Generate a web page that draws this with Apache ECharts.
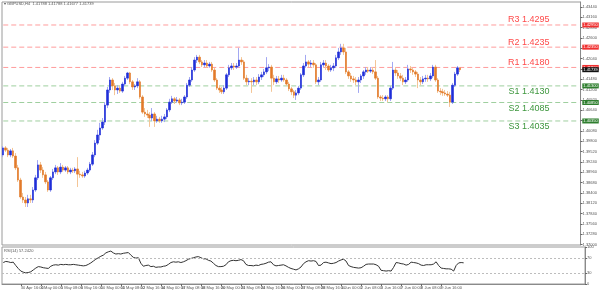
<!DOCTYPE html>
<html><head><meta charset="utf-8">
<script src="https://cdn.jsdelivr.net/npm/echarts@6/dist/echarts.min.js"></script>
<style>html,body{margin:0;padding:0;background:#fff}#c{width:600px;height:293px}</style>
</head><body><div id="c"></div>
<script>
const symbolTitle = 'GBPUSD,H4  1.41788 1.41788 1.41677 1.41739';
const rsiTitle = 'RSI(14) 57.2420';
const totalSlots = 233;
const tickBars = [0,7,15,23,31,39,47,55,63,71,79,87,95,103,111,119,127,135,143,151,159,167,175,183];
const tickLabels = ['29 Apr 2021','30 Apr 16:00','4 May 00:00','5 May 08:00','6 May 16:00','10 May 00:00','11 May 08:00','12 May 16:00','14 May 00:00','17 May 08:00','18 May 16:00','20 May 00:00','21 May 08:00','24 May 16:00','26 May 00:00','27 May 08:00','28 May 16:00','1 Jun 00:00','2 Jun 08:00','3 Jun 16:00','7 Jun 00:00','8 Jun 08:00','9 Jun 16:00','11 Jun 00:00'];
// [open, close, low, high]
const candles = [
[1.3943,1.3962,1.3937,1.3967],[1.3962,1.3956,1.3951,1.3967],[1.3956,1.3943,1.3937,1.3962],[1.3943,1.3954,1.3937,1.3959],[1.3954,1.3940,1.3935,1.3962],
[1.3940,1.3908,1.3902,1.3948],[1.3908,1.3875,1.3870,1.3916],[1.3875,1.3829,1.3824,1.3881],[1.3829,1.3821,1.3813,1.3840],[1.3821,1.3813,1.3802,1.3829],
[1.3813,1.3824,1.3802,1.3835],[1.3824,1.3821,1.3813,1.3835],[1.3821,1.3848,1.3813,1.3856],[1.3848,1.3881,1.3843,1.3889],[1.3881,1.3916,1.3875,1.3929],
[1.3916,1.3902,1.3894,1.3924],[1.3902,1.3889,1.3881,1.3910],[1.3889,1.3870,1.3864,1.3897],[1.3870,1.3848,1.3843,1.3875],[1.3848,1.3881,1.3843,1.3886],
[1.3881,1.3897,1.3875,1.3905],[1.3897,1.3908,1.3891,1.3916],[1.3908,1.3897,1.3889,1.3913],[1.3897,1.3910,1.3891,1.3921],[1.3910,1.3902,1.3897,1.3916],
[1.3902,1.3908,1.3897,1.3913],[1.3908,1.3897,1.3891,1.3913],[1.3897,1.3902,1.3891,1.3908],[1.3902,1.3900,1.3894,1.3908],[1.3900,1.3905,1.3894,1.3910],
[1.3905,1.3891,1.3856,1.3937],[1.3891,1.3889,1.3881,1.3900],[1.3889,1.3886,1.3881,1.3897],[1.3886,1.3894,1.3881,1.3900],[1.3894,1.3902,1.3889,1.3908],
[1.3902,1.3918,1.3897,1.3924],[1.3918,1.3943,1.3913,1.3951],[1.3943,1.3975,1.3937,1.3983],[1.3975,1.3997,1.3970,1.4011],[1.3997,1.4016,1.3983,1.4030],
[1.4016,1.4032,1.4011,1.4043],[1.4032,1.4078,1.4024,1.4086],[1.4078,1.4119,1.4070,1.4127],[1.4119,1.4146,1.4111,1.4154],[1.4146,1.4130,1.4119,1.4151],
[1.4130,1.4119,1.4105,1.4138],[1.4119,1.4124,1.4108,1.4132],[1.4124,1.4116,1.4111,1.4130],[1.4116,1.4135,1.4111,1.4141],[1.4135,1.4151,1.4130,1.4157],
[1.4151,1.4165,1.4146,1.4168],[1.4165,1.4141,1.4135,1.4168],[1.4141,1.4127,1.4119,1.4146],[1.4127,1.4130,1.4119,1.4135],[1.4130,1.4141,1.4124,1.4151],
[1.4141,1.4100,1.4095,1.4146],[1.4100,1.4059,1.4054,1.4105],[1.4059,1.4054,1.4046,1.4070],[1.4054,1.4051,1.4043,1.4065],[1.4051,1.4043,1.4019,1.4059],
[1.4043,1.4054,1.4035,1.4070],[1.4054,1.4035,1.4019,1.4059],[1.4035,1.4040,1.4030,1.4049],[1.4040,1.4035,1.4030,1.4046],[1.4035,1.4040,1.4030,1.4049],
[1.4040,1.4046,1.4032,1.4054],[1.4046,1.4065,1.4040,1.4070],[1.4065,1.4086,1.4059,1.4095],[1.4086,1.4095,1.4081,1.4103],[1.4095,1.4089,1.4081,1.4100],
[1.4089,1.4092,1.4084,1.4100],[1.4092,1.4084,1.4078,1.4097],[1.4084,1.4086,1.4078,1.4095],[1.4086,1.4100,1.4081,1.4105],[1.4100,1.4132,1.4095,1.4138],
[1.4132,1.4146,1.4127,1.4154],[1.4146,1.4173,1.4141,1.4181],[1.4173,1.4200,1.4168,1.4208],[1.4200,1.4208,1.4192,1.4214],[1.4208,1.4195,1.4189,1.4214],
[1.4195,1.4187,1.4181,1.4200],[1.4187,1.4192,1.4181,1.4200],[1.4192,1.4184,1.4179,1.4200],[1.4184,1.4189,1.4179,1.4195],[1.4189,1.4173,1.4168,1.4195],
[1.4173,1.4146,1.4141,1.4179],[1.4146,1.4124,1.4119,1.4151],[1.4124,1.4119,1.4111,1.4132],[1.4119,1.4114,1.4108,1.4127],[1.4114,1.4124,1.4108,1.4132],
[1.4124,1.4160,1.4119,1.4165],[1.4160,1.4179,1.4154,1.4187],[1.4179,1.4184,1.4173,1.4192],[1.4184,1.4181,1.4173,1.4192],[1.4181,1.4184,1.4176,1.4192],
[1.4184,1.4200,1.4179,1.4233],[1.4200,1.4195,1.4187,1.4208],[1.4195,1.4151,1.4146,1.4200],[1.4151,1.4141,1.4132,1.4160],[1.4141,1.4143,1.4132,1.4151],
[1.4143,1.4141,1.4111,1.4151],[1.4141,1.4146,1.4132,1.4154],[1.4146,1.4141,1.4132,1.4154],[1.4141,1.4154,1.4135,1.4162],[1.4154,1.4160,1.4146,1.4168],
[1.4160,1.4168,1.4154,1.4176],[1.4168,1.4179,1.4162,1.4208],[1.4179,1.4181,1.4170,1.4189],[1.4181,1.4151,1.4114,1.4187],[1.4151,1.4141,1.4132,1.4160],
[1.4141,1.4149,1.4135,1.4157],[1.4149,1.4146,1.4138,1.4157],[1.4146,1.4151,1.4141,1.4160],[1.4151,1.4146,1.4141,1.4160],[1.4146,1.4135,1.4130,1.4151],
[1.4135,1.4122,1.4116,1.4141],[1.4122,1.4114,1.4105,1.4127],[1.4114,1.4105,1.4097,1.4119],[1.4105,1.4111,1.4092,1.4119],[1.4111,1.4124,1.4105,1.4130],
[1.4124,1.4160,1.4119,1.4165],[1.4160,1.4184,1.4154,1.4192],[1.4184,1.4195,1.4179,1.4214],[1.4195,1.4189,1.4181,1.4200],[1.4189,1.4192,1.4181,1.4200],
[1.4192,1.4187,1.4179,1.4200],[1.4187,1.4141,1.4135,1.4192],[1.4141,1.4146,1.4132,1.4154],[1.4146,1.4187,1.4141,1.4195],[1.4187,1.4192,1.4181,1.4200],
[1.4192,1.4184,1.4173,1.4200],[1.4184,1.4173,1.4168,1.4189],[1.4173,1.4179,1.4168,1.4187],[1.4179,1.4184,1.4170,1.4192],[1.4184,1.4206,1.4179,1.4214],
[1.4206,1.4222,1.4200,1.4233],[1.4222,1.4233,1.4214,1.4244],[1.4233,1.4222,1.4214,1.4244],[1.4222,1.4168,1.4162,1.4233],[1.4168,1.4157,1.4149,1.4173],
[1.4157,1.4149,1.4141,1.4165],[1.4149,1.4146,1.4138,1.4157],[1.4146,1.4141,1.4132,1.4154],[1.4141,1.4146,1.4111,1.4154],[1.4146,1.4157,1.4138,1.4162],
[1.4157,1.4168,1.4149,1.4173],[1.4168,1.4173,1.4160,1.4181],[1.4173,1.4170,1.4165,1.4181],[1.4170,1.4173,1.4165,1.4181],[1.4173,1.4168,1.4162,1.4181],
[1.4168,1.4151,1.4146,1.4200],[1.4151,1.4100,1.4095,1.4157],[1.4100,1.4097,1.4089,1.4105],[1.4097,1.4095,1.4089,1.4105],[1.4095,1.4100,1.4089,1.4105],
[1.4100,1.4095,1.4086,1.4105],[1.4095,1.4124,1.4089,1.4130],[1.4124,1.4173,1.4119,1.4195],[1.4173,1.4165,1.4157,1.4181],[1.4165,1.4157,1.4149,1.4173],
[1.4157,1.4151,1.4143,1.4165],[1.4151,1.4141,1.4132,1.4160],[1.4141,1.4146,1.4135,1.4154],[1.4146,1.4176,1.4141,1.4187],[1.4176,1.4173,1.4165,1.4184],
[1.4173,1.4168,1.4160,1.4179],[1.4168,1.4162,1.4154,1.4173],[1.4162,1.4146,1.4124,1.4168],[1.4146,1.4141,1.4132,1.4154],[1.4141,1.4149,1.4135,1.4157],
[1.4149,1.4151,1.4141,1.4160],[1.4151,1.4149,1.4141,1.4160],[1.4149,1.4157,1.4143,1.4165],[1.4157,1.4181,1.4151,1.4187],[1.4181,1.4146,1.4141,1.4187],
[1.4146,1.4116,1.4111,1.4151],[1.4116,1.4114,1.4105,1.4124],[1.4114,1.4111,1.4103,1.4122],[1.4111,1.4108,1.4103,1.4119],[1.4108,1.4105,1.4100,1.4116],
[1.4105,1.4086,1.4073,1.4114],[1.4086,1.4132,1.4081,1.4138],[1.4132,1.4162,1.4127,1.4168],[1.4162,1.4179,1.4157,1.4184],[1.41788,1.41739,1.41677,1.41788]
];
const rsi = [
58,61,60,58,59,50,42,35,32,30,31,33,38,43,47,46,44,43,42,48,
51,52,51,53,52,53,52,52,53,52,51,50,49,50,53,57,62,67,71,75,
78,84,87,89,84,81,82,81,83,84,85,78,72,70,71,56,48,50,51,47,
48,45,46,46,48,49,53,58,60,59,60,58,60,63,67,69,71,73,74,71,
68,68,64,62,56,50,47,47,48,52,60,63,64,63,64,66,63,53,50,50,
49,51,50,53,54,56,59,60,52,49,50,51,52,49,45,42,40,38,41,46,
55,60,63,62,63,61,50,51,58,59,57,55,56,58,62,65,67,62,50,47,
45,44,43,44,48,53,54,54,54,52,48,37,36,35,36,35,45,58,57,55,
54,51,53,59,58,57,55,51,50,52,52,52,54,60,50,43,42,41,41,40,
35,50,57,58,57.24
];
const priceTicks = [1.4344,1.4316,1.4288,1.4260,1.4232,1.4204,1.4176,1.4148,1.4120,1.4092,1.4064,1.4036,1.4008,1.3980,1.3952,1.3924,1.3896,1.3868,1.3840,1.3812,1.3784,1.3756,1.3728,1.3700];
const rsiTicks = [0,30,70,100];
const rsiLevels = [70,30];
const pivotNames = ['R3','R2','R1','S1','S2','S3'];
const pivotValues = [1.4295,1.4235,1.4180,1.4130,1.4085,1.4035];
const lastPrice = 1.41739;

const cats = Array.from({length: totalSlots}, (_, i) => String(i));
const bodies = candles.map(([o, c]) => [o, c, Math.min(o, c), Math.max(o, c)]);
const isRes = n => n[0] === 'R';
const RED_LINE = '#ff9c9c', GREEN_LINE = '#9fcf9f', RED_TXT = '#ff4a4a', GREEN_TXT = '#3d963d';
const lastSlot = totalSlots - 1;

// one horizontal dashed line series per pivot level, drawn through the price axis
const pivotSeries = pivotNames.map((n, k) => ({
  type: 'line', name: n, xAxisIndex: 0, yAxisIndex: 0, symbol: 'none', silent: true, z: 1,
  data: [[0, pivotValues[k]], [lastSlot, pivotValues[k]]],
  lineStyle: {color: isRes(n) ? RED_LINE : GREEN_LINE, type: [5, 3], width: 1},
  endLabel: {show: true, distance: 3, formatter: pivotValues[k].toFixed(5), color: '#fff', fontSize: 4,
             backgroundColor: isRes(n) ? '#f03030' : '#2f7f2f', padding: [1, 1, 0, 1], fontFamily: 'Liberation Sans'},
  markPoint: {silent: true, symbol: 'circle', symbolSize: 0, animation: false,
    data: [{coord: [220, pivotValues[k]]}],
    label: {show: true, position: 'left', distance: 0, fontSize: 9, fontFamily: 'Liberation Sans',
            formatter: n + ' ' + pivotValues[k].toFixed(4), color: isRes(n) ? RED_TXT : GREEN_TXT,
            offset: [0, isRes(n) ? -5 : 6]}}
}));
pivotSeries.push({
  type: 'line', name: 'bid', xAxisIndex: 0, yAxisIndex: 0, symbol: 'none', silent: true,
  data: [[0, lastPrice], [lastSlot, lastPrice]], lineStyle: {opacity: 0},
  endLabel: {show: true, distance: 3, formatter: lastPrice.toFixed(5), color: '#fff', fontSize: 4,
             backgroundColor: '#111', padding: [1, 1, 0, 1], fontFamily: 'Liberation Sans'}
});

const chart = echarts.init(document.getElementById('c'), null, {renderer: 'canvas'});
chart.setOption({
  animation: false,
  backgroundColor: '#fff',
  grid: [
    {left: 2, right: 15, top: 2, height: 243, show: true, borderColor: '#9a9a9a', borderWidth: 1},
    {left: 2, right: 15, top: 247, height: 37, show: true, borderColor: '#9a9a9a', borderWidth: 1}
  ],
  xAxis: [
    {type: 'category', gridIndex: 0, data: cats, boundaryGap: true,
     axisLine: {show: false}, axisTick: {show: false}, axisLabel: {show: false}, splitLine: {show: false}},
    {type: 'category', gridIndex: 1, data: cats, boundaryGap: true,
     axisLine: {show: true, lineStyle: {color: '#8a8a8a'}},
     axisTick: {show: true, alignWithLabel: true, length: 2, interval: (i) => tickBars.includes(i), lineStyle: {color: '#666'}},
     axisLabel: {interval: (i) => tickBars.includes(i), formatter: (v, i) => tickLabels[tickBars.indexOf(Number(v))] || '',
                 fontSize: 4, color: '#555', align: 'left', margin: 2, fontFamily: 'Liberation Sans'},
     splitLine: {show: false}}
  ],
  yAxis: [
    {type: 'value', gridIndex: 0, position: 'right', min: 1.3699, max: 1.43573,
     axisLine: {show: true, lineStyle: {color: '#8a8a8a'}},
     axisTick: {show: true, length: 2, customValues: priceTicks, lineStyle: {color: '#666'}},
     axisLabel: {customValues: priceTicks, formatter: v => v.toFixed(5), fontSize: 4, color: '#555', margin: 2, fontFamily: 'Liberation Sans'},
     splitLine: {show: false}},
    {type: 'value', gridIndex: 1, position: 'right', min: 0, max: 100,
     axisLine: {show: true, lineStyle: {color: '#8a8a8a'}},
     axisTick: {show: true, length: 2, customValues: rsiTicks, lineStyle: {color: '#666'}},
     axisLabel: {customValues: rsiTicks, fontSize: 4, color: '#555', margin: 2, fontFamily: 'Liberation Sans'},
     splitLine: {show: false}}
  ],
  series: pivotSeries.concat([
    {type: 'candlestick', name: 'wicks', xAxisIndex: 0, yAxisIndex: 0, data: candles, barWidth: 1, z: 3,
     itemStyle: {color: '#a3a8f2', color0: '#f4c596', borderColor: '#a3a8f2', borderColor0: '#f4c596', borderWidth: 1}},
    {type: 'candlestick', name: 'bodies', xAxisIndex: 0, yAxisIndex: 0, data: bodies, barWidth: 2, z: 4,
     itemStyle: {color: '#1f2ed8', color0: '#e27a2a', borderColor: '#1f2ed8', borderColor0: '#e27a2a', borderWidth: 0.6}},
    {type: 'line', name: 'RSI', xAxisIndex: 1, yAxisIndex: 1, data: rsi, symbol: 'none',
     lineStyle: {color: '#333', width: 1},
     markLine: {silent: true, symbol: 'none', label: {show: false},
       lineStyle: {color: '#bdbdbd', type: [2, 2], width: 1},
       data: rsiLevels.map(v => ({yAxis: v}))}}
  ]),
  graphic: [
    {type: 'text', left: 4, top: 2, style: {text: '\u25BE ' + symbolTitle, fontSize: 4, fill: '#555', fontFamily: 'Liberation Sans'}},
    {type: 'text', left: 4, top: 249, style: {text: rsiTitle, fontSize: 4, fill: '#555', fontFamily: 'Liberation Sans'}}
  ]
});
</script></body></html>
